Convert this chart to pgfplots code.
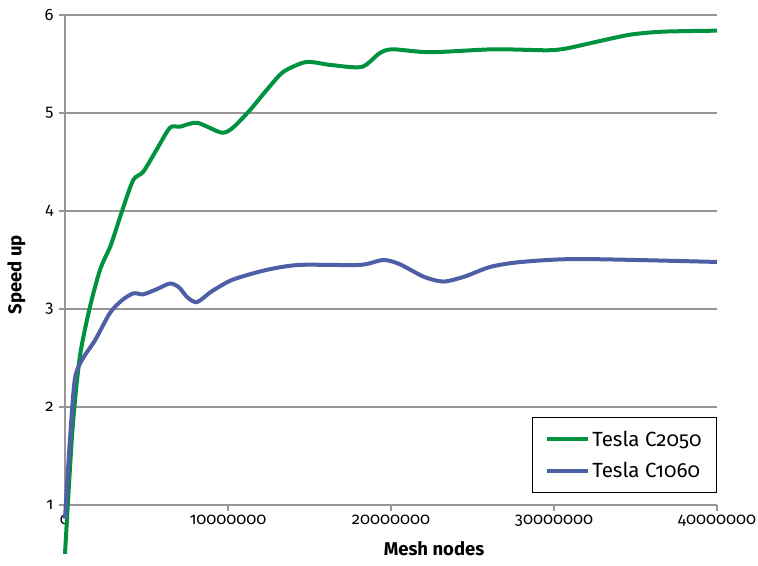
\documentclass[border=0pt]{standalone}
\usepackage{pgfplots}
\pgfplotsset{compat=1.18}
\usepackage{fontspec}
\setmainfont{Fira Sans}[Numbers=OldStyle]
\definecolor{cgreen}{RGB}{0,146,63}
\definecolor{cblue}{RGB}{78,95,165}
\definecolor{cgrid}{RGB}{150,150,150}
\begin{document}
\begin{tikzpicture}
\useasboundingbox (-65bp,-61bp) rectangle (693bp,505bp);
\begin{axis}[
  at={(0,0)}, anchor=south west,
  scale only axis, width=652bp, height=490bp,
  xmin=0, xmax=40000000, ymin=1, ymax=6,
  clip=false,
  axis x line=bottom, axis y line=left,
  axis line style={draw=cgrid, line width=1.3bp, -},
  xtick={0,10000000,20000000,30000000,40000000},
  xticklabels={0,10000000,20000000,30000000,40000000},
  ytick={1,2,3,4,5,6},
  yticklabels={1,2,3,4,5,6},
  scaled x ticks=false,
  ymajorgrids, grid style={draw=cgrid, line width=1.3bp},
  tick align=outside, major tick length=6bp,
  tick style={draw=cgrid, line width=1.3bp},
  ticklabel style={font=\fontsize{16.5bp}{19bp}\selectfont, text=black},
  xticklabel style={yshift=-1bp},
  yticklabel style={xshift=-2bp},
  xlabel={\textbf{Mesh nodes}},
  ylabel={\textbf{Speed up}},
  label style={font=\fontsize{18.5bp}{22bp}\selectfont},
  xlabel style={at={(axis description cs:0.566,0)}, anchor=north, yshift=-33bp},
  ylabel style={at={(axis description cs:0,0.47)}, anchor=south, yshift=36bp},
  legend style={at={(axis cs:40000000,1)}, anchor=south east, yshift=12bp,
    draw=black, line width=1.1bp, font=\fontsize{20.5bp}{24bp}\selectfont,
    inner xsep=13bp, inner ysep=11bp, row sep=11bp, legend cell align=left},
  legend image code/.code={\draw[#1, line width=4bp] (0bp,0bp) -- (41bp,0bp);},
]
\addplot[cgreen, line width=4bp, smooth, tension=0.45] coordinates {
(0,0.50) (450000,1.75) (900000,2.50) (1500000,3.00) (2150000,3.40)
(2760000,3.63) (3070000,3.78) (3600000,4.05) (4200000,4.32) (4800000,4.40)
(5600000,4.62) (6440000,4.85) (7060000,4.86) (8100000,4.90) (9600000,4.80)
(10300000,4.85) (11350000,5.03) (12400000,5.24) (13400000,5.42) (14800000,5.52)
(16300000,5.49) (18200000,5.47) (19300000,5.61) (20100000,5.65) (22400000,5.62)
(26300000,5.65) (29600000,5.64) (30800000,5.66) (32700000,5.73) (34700000,5.80)
(36700000,5.83) (40000000,5.84)
};
\addlegendentry{Tesla C2050}
\addplot[cblue, line width=4bp, smooth, tension=0.45] coordinates {
(0,0.86) (300000,1.66) (600000,2.28) (1040000,2.48) (1840000,2.68)
(2760000,2.96) (3500000,3.09) (4200000,3.16) (4800000,3.15) (5600000,3.20)
(6440000,3.26) (7000000,3.22) (7500000,3.12) (8100000,3.07) (9000000,3.18)
(10300000,3.30) (12400000,3.40) (14400000,3.45) (18100000,3.45) (19500000,3.50)
(20500000,3.46) (22000000,3.33) (23200000,3.28) (24500000,3.33) (26100000,3.43)
(28000000,3.48) (31600000,3.51) (40000000,3.48)
};
\addlegendentry{Tesla C1060}
\end{axis}
\end{tikzpicture}
\end{document}
